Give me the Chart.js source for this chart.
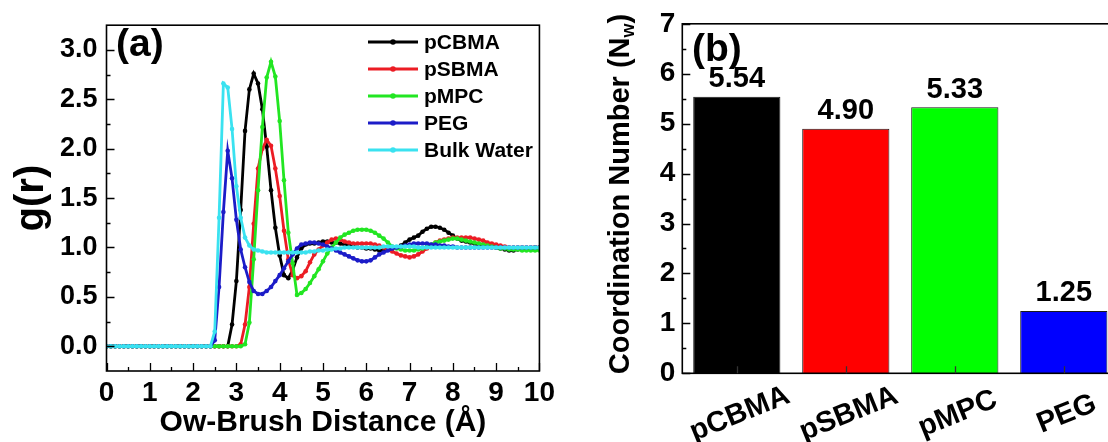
<!DOCTYPE html>
<html lang="en">
<head>
<meta charset="UTF-8">
<title>Water structure around brushes</title>
<script src="https://cdn.jsdelivr.net/npm/chart.js@4.4.1/dist/chart.umd.min.js"></script>
<style>
    html, body { margin: 0; padding: 0; background: #fff; overflow: hidden; }
    body { width: 1108px; height: 442px; position: relative; }
    #boxA { position: absolute; left: 0; top: 0; width: 560px; height: 442px; }
    #boxB { position: absolute; left: 560px; top: 0; width: 600px; height: 442px; }
</style>
</head>
<body>
<div id="boxA"><canvas id="rdfChart" width="560" height="442"></canvas></div>
<div id="boxB"><canvas id="cnChart" width="600" height="442"></canvas></div>
<script>
// ---- panel (a): radial distribution functions ----
const distances = [
    0.0, 0.1, 0.2, 0.3, 0.4, 0.5, 0.6, 0.7, 0.8, 0.9,
    1.0, 1.1, 1.2, 1.3, 1.4, 1.5, 1.6, 1.7, 1.8, 1.9,
    2.0, 2.1, 2.2, 2.3, 2.4, 2.5, 2.6, 2.7, 2.8, 2.9,
    3.0, 3.1, 3.2, 3.3, 3.4, 3.5, 3.6, 3.7, 3.8, 3.9,
    4.0, 4.1, 4.2, 4.3, 4.4, 4.5, 4.6, 4.7, 4.8, 4.9,
    5.0, 5.1, 5.2, 5.3, 5.4, 5.5, 5.6, 5.7, 5.8, 5.9,
    6.0, 6.1, 6.2, 6.3, 6.4, 6.5, 6.6, 6.7, 6.8, 6.9,
    7.0, 7.1, 7.2, 7.3, 7.4, 7.5, 7.6, 7.7, 7.8, 7.9,
    8.0, 8.1, 8.2, 8.3, 8.4, 8.5, 8.6, 8.7, 8.8, 8.9,
    9.0, 9.1, 9.2, 9.3, 9.4, 9.5, 9.6, 9.7, 9.8, 9.9,
    10.0
];
const gCBMA = [
    0, 0, 0, 0, 0, 0, 0, 0, 0, 0,
    0, 0, 0, 0, 0, 0, 0, 0, 0, 0,
    0, 0, 0, 0, 0, 0, 0, 0, 0, 0.22,
    0.66, 1.38, 2.18, 2.60, 2.76, 2.66, 2.40, 2.02, 1.58, 1.20,
    0.92, 0.72, 0.69, 0.77, 0.90, 0.99, 1.03, 1.04, 1.04, 1.05,
    1.06, 1.06, 1.05, 1.05, 1.04, 1.03, 1.02, 1.01, 1.00, 1.00,
    0.99, 0.99, 0.98, 0.97, 0.97, 0.98, 0.99, 1.00, 1.02, 1.05,
    1.08, 1.10, 1.12, 1.16, 1.19, 1.21, 1.21, 1.20, 1.18, 1.15,
    1.12, 1.09, 1.07, 1.06, 1.05, 1.04, 1.03, 1.03, 1.02, 1.01,
    1.00, 0.99, 0.98, 0.97, 0.97, 0.98, 0.98, 0.99, 0.99, 1.00,
    1.00
];
const gSBMA = [
    0, 0, 0, 0, 0, 0, 0, 0, 0, 0,
    0, 0, 0, 0, 0, 0, 0, 0, 0, 0,
    0, 0, 0, 0, 0, 0, 0, 0, 0, 0,
    0, 0.02, 0.22, 0.60, 1.24, 1.80, 2.00, 2.09, 2.03, 1.80,
    1.52, 1.17, 0.88, 0.72, 0.69, 0.71, 0.76, 0.85, 0.93, 0.98,
    1.02, 1.05, 1.08, 1.09, 1.08, 1.06, 1.05, 1.04, 1.04, 1.04,
    1.04, 1.04, 1.03, 1.02, 1.00, 0.98, 0.96, 0.94, 0.92, 0.91,
    0.90, 0.91, 0.93, 0.96, 0.99, 1.02, 1.05, 1.07, 1.08, 1.09,
    1.10, 1.10, 1.10, 1.10, 1.10, 1.09, 1.08, 1.07, 1.05, 1.04,
    1.03, 1.02, 1.01, 1.00, 1.00, 1.00, 1.00, 1.00, 1.00, 1.00,
    1.00
];
const gMPC = [
    0, 0, 0, 0, 0, 0, 0, 0, 0, 0,
    0, 0, 0, 0, 0, 0, 0, 0, 0, 0,
    0, 0, 0, 0, 0, 0, 0, 0, 0, 0,
    0, 0, 0.02, 0.24, 0.88, 1.58, 2.22, 2.72, 2.88, 2.73,
    2.28, 1.68, 1.15, 0.84, 0.52, 0.54, 0.58, 0.64, 0.71, 0.78,
    0.86, 0.94, 1.00, 1.05, 1.10, 1.13, 1.15, 1.17, 1.18, 1.18,
    1.18, 1.17, 1.15, 1.12, 1.09, 1.05, 1.01, 0.99, 0.98, 0.97,
    0.97, 0.97, 0.98, 0.99, 1.01, 1.03, 1.05, 1.06, 1.07, 1.08,
    1.09, 1.09, 1.08, 1.07, 1.06, 1.05, 1.04, 1.03, 1.02, 1.01,
    1.00, 0.99, 0.99, 0.98, 0.98, 0.98, 0.97, 0.97, 0.97, 0.97,
    0.97
];
const gPEG = [
    0, 0, 0, 0, 0, 0, 0, 0, 0, 0,
    0, 0, 0, 0, 0, 0, 0, 0, 0, 0,
    0, 0, 0, 0, 0, 0.06, 0.60, 1.36, 1.98, 1.70,
    1.28, 0.98, 0.80, 0.65, 0.56, 0.53, 0.53, 0.56, 0.60, 0.66,
    0.72, 0.79, 0.86, 0.93, 0.99, 1.03, 1.04, 1.05, 1.05, 1.04,
    1.03, 1.01, 0.99, 0.97, 0.95, 0.93, 0.91, 0.89, 0.87, 0.86,
    0.86, 0.87, 0.90, 0.93, 0.95, 0.97, 0.99, 1.00, 1.01, 1.02,
    1.03, 1.04, 1.04, 1.04, 1.04, 1.03, 1.03, 1.02, 1.02, 1.01,
    1.01, 1.00, 1.00, 1.00, 1.00, 1.00, 1.00, 1.00, 1.00, 1.00,
    1.00, 1.00, 1.00, 1.00, 1.00, 1.00, 1.00, 1.00, 1.00, 1.00,
    1.00
];
const gWater = [
    0, 0, 0, 0, 0, 0, 0, 0, 0, 0,
    0, 0, 0, 0, 0, 0, 0, 0, 0, 0,
    0, 0, 0, 0, 0, 0.15, 1.30, 2.66, 2.62, 2.20,
    1.62, 1.30, 1.10, 1.02, 0.98, 0.97, 0.96, 0.95, 0.95, 0.95,
    0.95, 0.95, 0.95, 0.95, 0.95, 0.95, 0.95, 0.96, 0.96, 0.97,
    0.97, 0.98, 0.98, 0.99, 0.99, 1.00, 1.00, 1.00, 1.00, 1.00,
    1.00, 1.00, 1.00, 1.00, 1.01, 1.01, 1.01, 1.01, 1.01, 1.01,
    1.01, 1.01, 1.00, 1.00, 1.00, 1.00, 1.00, 1.00, 1.00, 1.00,
    1.00, 1.00, 1.00, 1.00, 1.00, 1.00, 1.00, 1.00, 1.00, 1.00,
    1.00, 1.00, 1.00, 1.00, 1.00, 1.00, 1.00, 1.00, 1.00, 1.00,
    1.00
];
const rdfNames = ['pCBMA', 'pSBMA', 'pMPC', 'PEG', 'Bulk Water'];
const rdfSeries = [gCBMA, gSBMA, gMPC, gPEG, gWater];
const rdfColors = ['#000000', '#ec1c24', '#22e622', '#1c1cc8', '#3ae2f0'];
const xTicksA = [0, 1, 2, 3, 4, 5, 6, 7, 8, 9, 10];
const xMinorA = [0.5, 1.5, 2.5, 3.5, 4.5, 5.5, 6.5, 7.5, 8.5, 9.5];
const yTicksA = [0, 0.5, 1, 1.5, 2, 2.5, 3];
const yMinorA = [0.25, 0.75, 1.25, 1.75, 2.25, 2.75];

// ---- panel (b): coordination numbers ----
const brushes = ['pCBMA', 'pSBMA', 'pMPC', 'PEG'];
const coordNumbers = [5.54, 4.90, 5.33, 1.25];
const barColors = ['#000000', '#ff0000', '#00ff00', '#0000ff'];
const yTicksB = [0, 1, 2, 3, 4, 5, 6, 7];
const yMinorB = [0.5, 1.5, 2.5, 3.5, 4.5, 5.5, 6.5];

const FONT = '"Liberation Sans", Arial, sans-serif';
Chart.defaults.font.family = FONT;
Chart.defaults.font.weight = 'bold';
Chart.defaults.color = '#000';

function inTicks(ctx, chart, axis, values, len) {
    const a = chart.chartArea;
    const s = chart.scales[axis];
    ctx.beginPath();
    values.forEach(v => {
        const p = Math.round(s.getPixelForValue(v)) + 0.5;
        if (axis === 'y') { ctx.moveTo(a.left, p); ctx.lineTo(a.left + len, p); }
        else { ctx.moveTo(p, a.bottom); ctx.lineTo(p, a.bottom - len); }
    });
    ctx.stroke();
}

const rdfDecor = {
    id: 'rdfDecor',
    afterDraw(chart) {
        const ctx = chart.ctx;
        const a = chart.chartArea;
        ctx.save();
        ctx.strokeStyle = '#000';
        ctx.lineWidth = 1.6;
        ctx.strokeRect(a.left, a.top, a.right - a.left, a.bottom - a.top);
        ctx.lineWidth = 1.3;
        inTicks(ctx, chart, 'y', yTicksA, 8);
        inTicks(ctx, chart, 'y', yMinorA, 4);
        inTicks(ctx, chart, 'x', xTicksA, 8);
        inTicks(ctx, chart, 'x', xMinorA, 4);

        // panel tag
        ctx.fillStyle = '#000';
        ctx.font = 'bold 39px ' + FONT;
        ctx.textAlign = 'left';
        ctx.textBaseline = 'middle';
        ctx.fillText('(a)', 116, 45);

        // legend
        ctx.font = 'bold 21px ' + FONT;
        chart.data.datasets.forEach((ds, k) => {
            const y = 42 + k * 27;
            ctx.strokeStyle = ds.borderColor;
            ctx.lineWidth = 2.8;
            ctx.beginPath();
            ctx.moveTo(368, y);
            ctx.lineTo(418, y);
            ctx.stroke();
            ctx.fillStyle = ds.borderColor;
            ctx.beginPath();
            ctx.arc(393, y, 2.8, 0, Math.PI * 2);
            ctx.fill();
            ctx.fillStyle = '#000';
            ctx.fillText(ds.label, 424, y + 1);
        });
        ctx.restore();
    }
};

new Chart(document.getElementById('rdfChart'), {
    type: 'line',
    data: {
        datasets: rdfNames.map((name, k) => ({
            label: name,
            data: distances.map((r, i) => ({ x: r, y: rdfSeries[k][i] })),
            borderColor: rdfColors[k],
            backgroundColor: rdfColors[k],
            borderWidth: 2.8,
            pointRadius: 2.3,
            pointBorderWidth: 0,
            pointHoverRadius: 0,
            tension: 0,
            order: rdfNames.length - 1 - k
        }))
    },
    options: {
        responsive: false,
        animation: false,
        devicePixelRatio: 1,
        layout: { padding: { top: 19, right: 17.5, left: 0, bottom: 0 } },
        plugins: { legend: { display: false }, tooltip: { enabled: false } },
        scales: {
            x: {
                type: 'linear',
                min: 0,
                max: 10,
                afterBuildTicks: s => { s.ticks = xTicksA.map(v => ({ value: v })); },
                afterFit: s => { s.height = 71; },
                grid: { display: false, drawTicks: false },
                border: { display: false },
                ticks: { font: { size: 28, weight: 'bold' }, padding: 5, maxRotation: 0, autoSkip: false,
                         callback: v => String(v) },
                title: { display: true, text: 'Ow-Brush Distance (Å)', font: { size: 30, weight: 'bold' },
                         padding: { top: 0, bottom: 1 } }
            },
            y: {
                min: -0.25,
                max: 3.25,
                afterBuildTicks: s => { s.ticks = yTicksA.map(v => ({ value: v })); },
                afterFit: s => { s.width = 106.5; },
                grid: { display: false, drawTicks: false },
                border: { display: false },
                ticks: { font: { size: 27, weight: 'bold' }, padding: 9, callback: v => v.toFixed(1) },
                title: { display: true, text: 'g(r)', font: { size: 40, weight: 'bold' },
                         padding: { top: 8, bottom: 0 } }
            }
        }
    },
    plugins: [rdfDecor]
});

const cnDecor = {
    id: 'cnDecor',
    afterDraw(chart) {
        const ctx = chart.ctx;
        const a = chart.chartArea;
        const xs = chart.scales.x;
        ctx.save();
        ctx.strokeStyle = '#000';
        ctx.lineWidth = 1.6;
        ctx.strokeRect(a.left, a.top, a.right - a.left, a.bottom - a.top);
        ctx.lineWidth = 1.3;
        inTicks(ctx, chart, 'y', yTicksB, 8);
        inTicks(ctx, chart, 'y', yMinorB, 4);
        ctx.strokeStyle = '#333';
        inTicks(ctx, chart, 'x', brushes.map((b, i) => i), 7);

        ctx.fillStyle = '#000';
        ctx.font = 'bold 39px ' + FONT;
        ctx.textAlign = 'left';
        ctx.textBaseline = 'middle';
        ctx.fillText('(b)', 132, 50);

        // values above bars
        const meta = chart.getDatasetMeta(0);
        ctx.font = 'bold 29px ' + FONT;
        ctx.textAlign = 'center';
        ctx.textBaseline = 'bottom';
        meta.data.forEach((bar, i) => {
            ctx.fillText(coordNumbers[i].toFixed(2), bar.x, bar.y - 3);
        });

        // slanted category labels
        ctx.font = 'bold 29px ' + FONT;
        ctx.textBaseline = 'middle';
        brushes.forEach((name, i) => {
            ctx.save();
            ctx.translate(xs.getPixelForValue(i) + 3, 414);
            ctx.rotate(-22 * Math.PI / 180);
            ctx.fillText(name, 0, 0);
            ctx.restore();
        });

        // y title with subscript
        const main = 'Coordination Number (N';
        const sub = 'w';
        const tail = ')';
        ctx.save();
        ctx.translate(61, 194);
        ctx.rotate(-Math.PI / 2);
        ctx.textAlign = 'left';
        ctx.textBaseline = 'middle';
        ctx.font = 'bold 29px ' + FONT;
        const w1 = ctx.measureText(main).width;
        const w3 = ctx.measureText(tail).width;
        ctx.font = 'bold 18px ' + FONT;
        const w2 = ctx.measureText(sub).width;
        const x0 = -(w1 + w2 + w3) / 2;
        ctx.font = 'bold 29px ' + FONT;
        ctx.fillText(main, x0, 0);
        ctx.font = 'bold 18px ' + FONT;
        ctx.fillText(sub, x0 + w1, 8);
        ctx.font = 'bold 29px ' + FONT;
        ctx.fillText(tail, x0 + w1 + w2, 0);
        ctx.restore();
        ctx.restore();
    }
};

new Chart(document.getElementById('cnChart'), {
    type: 'bar',
    data: {
        labels: brushes,
        datasets: [{
            data: coordNumbers,
            backgroundColor: barColors,
            borderColor: '#1a1a1a',
            borderWidth: 1,
            barPercentage: 0.8,
            categoryPercentage: 1.0
        }]
    },
    options: {
        responsive: false,
        animation: false,
        devicePixelRatio: 1,
        layout: { padding: { top: 21.3, right: 41.7, left: 0, bottom: 0 } },
        plugins: { legend: { display: false }, tooltip: { enabled: false } },
        scales: {
            x: {
                afterFit: s => { s.height = 68.7; },
                grid: { display: false, drawTicks: false },
                border: { display: false },
                ticks: { display: false }
            },
            y: {
                min: 0,
                max: 7,
                afterBuildTicks: s => { s.ticks = yTicksB.map(v => ({ value: v })); },
                afterFit: s => { s.width = 122.3; },
                grid: { display: false, drawTicks: false },
                border: { display: false },
                ticks: { font: { size: 28, weight: 'bold' }, padding: 7 }
            }
        }
    },
    plugins: [cnDecor]
});
</script>
</body>
</html>
